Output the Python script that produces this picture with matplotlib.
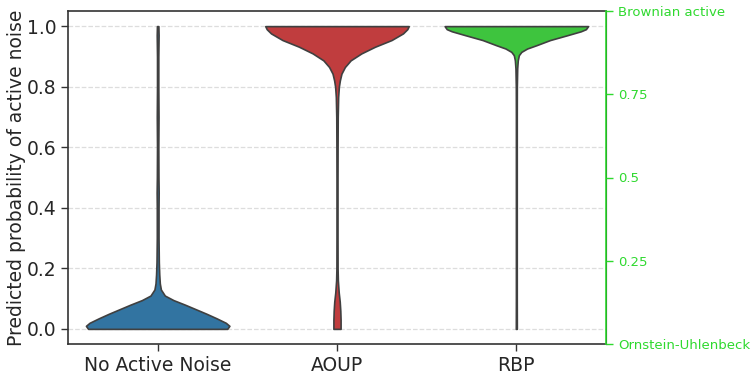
import numpy as np
import matplotlib
matplotlib.use("Agg")
import matplotlib.pyplot as plt

# --- categories / colours ---
categories = ["No Active Noise", "AOUP", "RBP"]
colors = ["#3274a1", "#c03d3e", "#3ec43e"]

# --- density profiles (y value, relative half-width) ---
noise_y = [0.0, 0.01, 0.02, 0.035, 0.05, 0.065, 0.08, 0.095, 0.11, 0.13, 0.15,
           0.18, 0.22, 0.3, 0.4, 0.45, 0.5, 0.6, 0.7, 0.8, 0.9, 0.97, 1.0]
noise_w = [0.97, 1.0, 0.95, 0.82, 0.68, 0.53, 0.38, 0.22, 0.10, 0.045, 0.03,
           0.022, 0.016, 0.012, 0.012, 0.014, 0.011, 0.009, 0.012, 0.009, 0.009, 0.013, 0.01]

aoup_y = [0.0, 0.03, 0.06, 0.09, 0.12, 0.16, 0.2, 0.3, 0.4, 0.5, 0.6, 0.7, 0.766,
          0.80, 0.821, 0.843, 0.865, 0.887, 0.91, 0.932, 0.954, 0.976, 0.99, 1.0]
aoup_w = [0.05, 0.05, 0.046, 0.038, 0.024, 0.012, 0.008, 0.007, 0.007, 0.007, 0.008,
          0.01, 0.016, 0.026, 0.04, 0.062, 0.11, 0.19, 0.34, 0.53, 0.76, 0.92, 0.98, 1.0]

rbp_y = [0.0, 0.1, 0.2, 0.3, 0.4, 0.5, 0.6, 0.7, 0.8, 0.86, 0.887, 0.904,
         0.915, 0.926, 0.937, 0.954, 0.970, 0.983, 0.99, 1.0]
rbp_w = [0.007, 0.006, 0.006, 0.006, 0.006, 0.006, 0.006, 0.006, 0.007, 0.012, 0.02,
         0.035, 0.07, 0.15, 0.28, 0.47, 0.71, 0.9, 0.97, 1.0]

profiles = [(noise_y, noise_w), (aoup_y, aoup_w), (rbp_y, rbp_w)]

right_ticks = [0.0, 0.25, 0.5, 0.75, 1.0]
right_labels = ["Ornstein-Uhlenbeck", "0.25", "0.5", "0.75", "Brownian active"]

axis_green = "#2fd92f"
edge = "#404040"
text_c = "#262626"

fig = plt.figure(figsize=(7.54, 3.78), dpi=100)
ax = fig.add_axes([68 / 754, 34 / 378, 538 / 754, 333 / 378])

stats = []
for ys, ws in profiles:
    ys = np.array(ys)
    stats.append({"coords": ys, "vals": np.array(ws),
                  "mean": ys.mean(), "median": np.median(ys),
                  "min": ys.min(), "max": ys.max()})

parts = ax.violin(stats, positions=range(len(categories)), widths=0.8,
                  showmeans=False, showextrema=False)
for body, c in zip(parts["bodies"], colors):
    body.set_facecolor(c)
    body.set_edgecolor(edge)
    body.set_linewidth(1.2)
    body.set_alpha(1)
    body.set_zorder(3)

ax.set_xlim(-0.5, 2.5)
ax.set_ylim(-0.05, 1.05)
ax.set_xticks(range(len(categories)))
ax.set_xticklabels(categories, fontsize=13.5, color=text_c)
ax.set_yticks([0, 0.2, 0.4, 0.6, 0.8, 1.0])
ax.set_yticklabels(["0.0", "0.2", "0.4", "0.6", "0.8", "1.0"], fontsize=13.5, color=text_c)
ax.set_ylabel("Predicted probability of active noise", fontsize=13.5, color=text_c, labelpad=0)
ax.yaxis.grid(True, linestyle="--", color="#dddddd", linewidth=0.9, zorder=0)
ax.set_axisbelow(True)
ax.tick_params(length=5, width=1, color="#333333")
for s in ["left", "bottom", "top"]:
    ax.spines[s].set_color("#333333")
    ax.spines[s].set_linewidth(1.2)

ax2 = ax.twinx()
ax2.set_ylim(0, 1)
ax2.set_yticks(right_ticks)
ax2.set_yticklabels(right_labels, fontsize=9.5, color=axis_green)
ax2.tick_params(axis="y", colors=axis_green, length=5, width=1)
ax2.spines["right"].set_color(axis_green)
ax2.spines["right"].set_linewidth(1.2)
for s in ["left", "bottom", "top"]:
    ax2.spines[s].set_visible(False)

fig.savefig("out.png", dpi=100)
